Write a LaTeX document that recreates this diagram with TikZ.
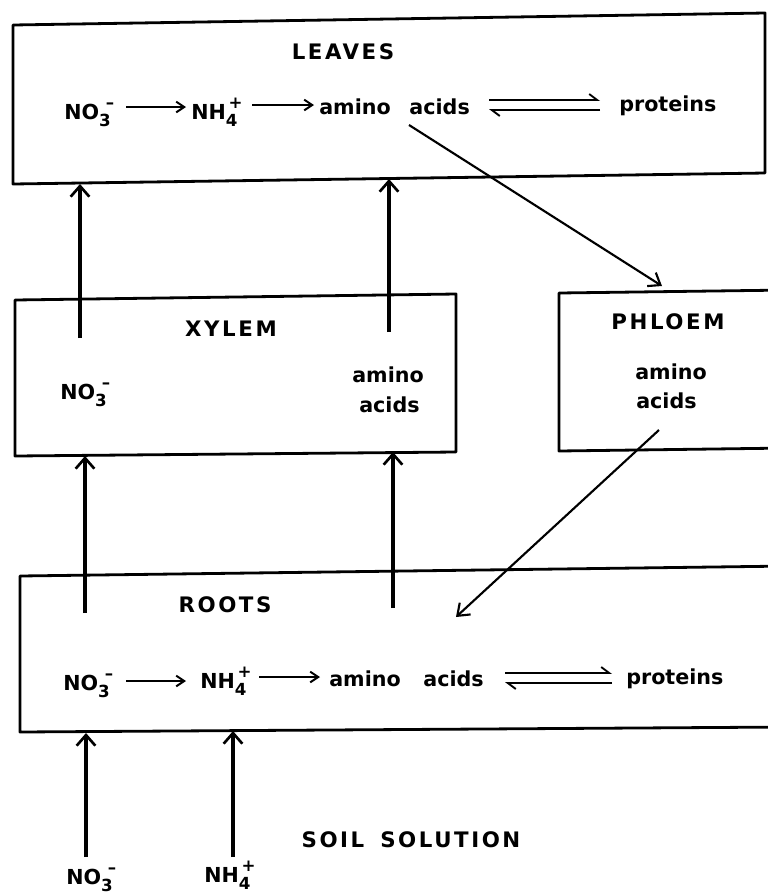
\documentclass[tikz,border=0pt]{standalone}
\usepackage{fontspec}
\setmainfont{DejaVu Sans}
\usetikzlibrary{arrows.meta}
\newcommand\ionx[4]{#1\rlap{\raisebox{-0.34em}{\fontsize{12.5}{12}\selectfont #2}}\kern#4\raisebox{0.5em}{\fontsize{12.5}{12}\selectfont #3}}
\begin{document}
\begin{tikzpicture}[x=0.75pt,y=-0.75pt,line join=round,
  box/.style={line width=2.1pt},
  txt/.style={font=\fontsize{15.5}{18}\selectfont\bfseries,inner sep=0pt,anchor=base west},
  ttl/.style={font=\fontsize{16}{18}\selectfont\bfseries\addfontfeature{LetterSpace=12},inner sep=0pt},
  uparr/.style={line width=2.4pt,-{Straight Barb[length=8pt,width=14pt,line width=2pt]}},
  rowarr/.style={line width=1.6pt,-{Straight Barb[length=6pt,width=8pt,line width=1.5pt]}},
  diag/.style={line width=1.6pt,-{Straight Barb[length=8pt,width=12pt,line width=1.6pt]}},
  harp/.style={line width=1.5pt,-{Straight Barb[left,length=6pt,width=9pt,line width=1.4pt]}}]
\useasboundingbox (0,0) rectangle (768,894);
\clip (0,0) rectangle (768,894);
% boxes
\draw[box] (13,25) -- (765,13) -- (765,173) -- (13,184) -- cycle;
\draw[box] (15,300) -- (456,294) -- (456,452) -- (15,456) -- cycle;
\draw[box] (790,290) -- (559,293) -- (559,451) -- (790,448);
\draw[box] (790,566) -- (20,576) -- (20,732) -- (790,727);
% titles
\node[ttl] (leavest) at (343,52) {LEAVES};
\node[ttl] (xylemt) at (231,329) {XYLEM};
\node[ttl] (phloemt) at (668,322) {PHLOEM};
\node[ttl] (rootst) at (225,605) {ROOTS};
\node[ttl] (soilt) at (411,840) {SOIL\hspace{12pt}SOLUTION};
% leaves row
\node[txt] (lno3) at (64,119) {\ionx{NO}{3}{–}{5pt}};
\node[txt] (lnh4) at (191,119) {\ionx{NH}{4}{+}{2pt}};
\node[txt] (laa) at (319,114) {amino\hspace{14pt}acids};
\node[txt] (lprot) at (619,111) {proteins};
\coordinate (la1s) at (126,107); \coordinate (la1e) at (186,107);
\coordinate (la2s) at (252,105); \coordinate (la2e) at (314,105);
\coordinate (le1s) at (489,100); \coordinate (le1e) at (600,100);
\coordinate (le2s) at (600,110); \coordinate (le2e) at (489,110);
\draw[rowarr] (la1s) -- (la1e);
\draw[rowarr] (la2s) -- (la2e);
\draw[harp] (le1s) -- (le1e);
\draw[harp] (le2s) -- (le2e);
% xylem
\node[txt] (xno3) at (60,399) {\ionx{NO}{3}{–}{5pt}};
\node[txt] (xaa1) at (352,382) {amino};
\node[txt] (xaa2) at (359,412) {acids};
% phloem
\node[txt] (paa1) at (635,379) {amino};
\node[txt] (paa2) at (636,408) {acids};
% roots row
\node[txt] (rno3) at (63,690) {\ionx{NO}{3}{–}{5pt}};
\node[txt] (rnh4) at (200,688) {\ionx{NH}{4}{+}{2pt}};
\node[txt] (raa) at (329,686) {amino\hspace{17pt}acids};
\node[txt] (rprot) at (626,684) {proteins};
\coordinate (ra1s) at (126,681); \coordinate (ra1e) at (186,681);
\coordinate (ra2s) at (259,677); \coordinate (ra2e) at (320,677);
\coordinate (re1s) at (505,673); \coordinate (re1e) at (612,673);
\coordinate (re2s) at (612,683); \coordinate (re2e) at (505,683);
\draw[rowarr] (ra1s) -- (ra1e);
\draw[rowarr] (ra2s) -- (ra2e);
\draw[harp] (re1s) -- (re1e);
\draw[harp] (re2s) -- (re2e);
% soil labels
\node[txt] (sno3) at (66,884) {\ionx{NO}{3}{–}{5pt}};
\node[txt] (snh4) at (204,882) {\ionx{NH}{4}{+}{2pt}};
% vertical transport arrows
\coordinate (x1b) at (80,338); \coordinate (l1t) at (80,184);
\coordinate (x2b) at (389,332); \coordinate (l2t) at (389,179);
\coordinate (r1b) at (85,613); \coordinate (x1t) at (85,456);
\coordinate (r2b) at (393,608); \coordinate (x2t) at (393,452);
\coordinate (s1b) at (86,857); \coordinate (r1t) at (86,733);
\coordinate (s2b) at (233,857); \coordinate (r2t) at (233,731);
\draw[uparr] (x1b) -- (l1t);
\draw[uparr] (x2b) -- (l2t);
\draw[uparr] (r1b) -- (x1t);
\draw[uparr] (r2b) -- (x2t);
\draw[uparr] (s1b) -- (r1t);
\draw[uparr] (s2b) -- (r2t);
% diagonal arrows
\coordinate (ld) at (409,125); \coordinate (pt) at (662,286);
\coordinate (pd) at (659,430); \coordinate (rt) at (456,617);
\draw[diag] (ld) -- (pt);
\draw[diag] (pd) -- (rt);
\end{tikzpicture}
\end{document}
